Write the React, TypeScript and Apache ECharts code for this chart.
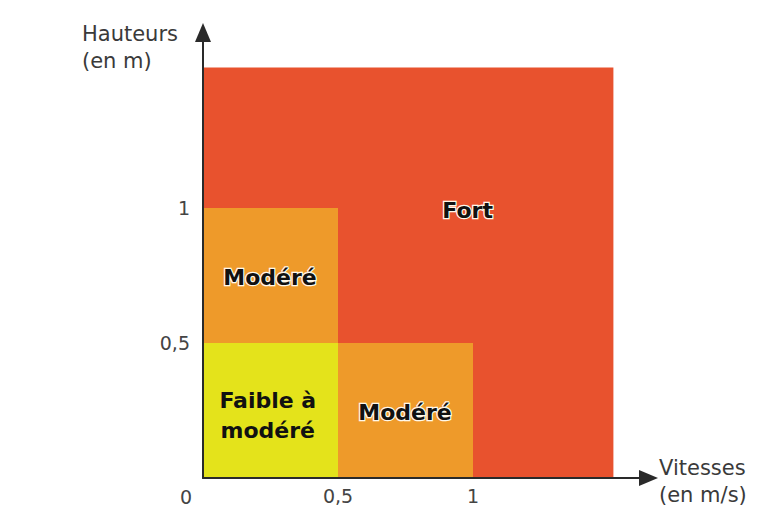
import React, { useEffect, useRef } from "react";
import * as echarts from "echarts";

// Zones (rectangles in data units: vitesse x, hauteur y)
const zoneNames = ["Fort", "Modéré", "Modéré", "Faible à\nmodéré"];
const zoneX0 = [0, 0, 0.5, 0];
const zoneX1 = [1.52, 0.5, 1, 0.5];
const zoneY0 = [0, 0.5, 0, 0];
const zoneY1 = [1.52, 1, 0.5, 0.5];
const zoneColors = ["#E8522E", "#EE9A2A", "#EE9A2A", "#E4E31B"];
const zoneHalo = [true, true, true, false];

// Label anchor points (data units)
const labelX = [0.98, 0.248, 0.748, 0.24];
const labelY = [0.99, 0.744, 0.244, 0.233];

// Tick labels
const xTicks = [0.5, 1];
const yTicks = [0.5, 1];
const axisMax = 1.65;

const fmt = (v: number) => String(v).replace(".", ",");

export default function App() {
  const ref = useRef<HTMLDivElement>(null);
  useEffect(() => {
    if (!ref.current) return;
    const chart = echarts.init(ref.current, null, { renderer: "svg" });
    const rectData = zoneNames.map((_, i) => ({
      value: [zoneX0[i], zoneX1[i], zoneY0[i], zoneY1[i]],
      itemStyle: { color: zoneColors[i] },
    }));
    const labelData = zoneNames.map((n, i) => ({
      value: [labelX[i], labelY[i]],
      name: n,
      label: {
        show: true,
        position: "inside",
        formatter: n,
        fontFamily: "DejaVu Sans",
        fontWeight: "bold",
        fontSize: 22,
        lineHeight: 30,
        color: "#111111",
        opacity: 1,
        textBorderColor: zoneHalo[i] ? "#fff8ea" : "transparent",
        textBorderWidth: zoneHalo[i] ? 2.5 : 0,
      },
    }));
    chart.setOption({
      animation: false,
      backgroundColor: "#ffffff",
      grid: { left: 203, right: 761 - 203 - axisMax * 270, top: 478 - axisMax * 270, bottom: 52 },
      xAxis: {
        type: "value",
        min: 0,
        max: axisMax,
        interval: 0.5,
        z: 10,
        splitLine: { show: false },
        axisTick: { show: false },
        axisLine: {
          show: true,
          lineStyle: { color: "#2a2a2a", width: 2 },
          symbol: ["none", "triangle"],
          symbolSize: [16, 19],
        },
        axisLabel: {
          margin: 8,
          fontFamily: "DejaVu Sans",
          fontSize: 19,
          color: "#444",
          showMaxLabel: false,
          formatter: (v: number) => (xTicks.includes(v) ? fmt(v) : ""),
        },
      },
      yAxis: {
        type: "value",
        min: 0,
        max: axisMax,
        interval: 0.5,
        z: 10,
        splitLine: { show: false },
        axisTick: { show: false },
        axisLine: {
          show: true,
          lineStyle: { color: "#2a2a2a", width: 2 },
          symbol: ["none", "triangle"],
          symbolSize: [16, 19],
        },
        axisLabel: {
          margin: 13,
          fontFamily: "DejaVu Sans",
          fontSize: 19,
          color: "#444",
          showMaxLabel: false,
          formatter: (v: number) => (yTicks.includes(v) ? fmt(v) : ""),
        },
      },
      graphic: [
        {
          type: "text",
          left: 82,
          top: 20,
          style: {
            text: "Hauteurs\n(en m)",
            fontFamily: "DejaVu Sans",
            fontSize: 21,
            lineHeight: 27,
            fill: "#3a3a3a",
          },
        },
        {
          type: "text",
          left: 659,
          top: 454,
          style: {
            text: "Vitesses\n(en m/s)",
            fontFamily: "DejaVu Sans",
            fontSize: 21,
            lineHeight: 27,
            fill: "#3a3a3a",
          },
        },
        {
          type: "text",
          left: 180,
          top: 487,
          style: { text: "0", fontFamily: "DejaVu Sans", fontSize: 19, fill: "#444" },
        },
      ],
      series: [
        {
          type: "custom",
          z: 1,
          data: rectData,
          renderItem: (params: any, api: any) => {
            const p0 = api.coord([api.value(0), api.value(3)]);
            const p1 = api.coord([api.value(1), api.value(2)]);
            return {
              type: "rect",
              shape: { x: p0[0], y: p0[1], width: p1[0] - p0[0], height: p1[1] - p0[1] },
              style: { fill: api.visual("color") },
            };
          },
        },
        {
          type: "scatter",
          z: 5,
          symbolSize: 0,
          itemStyle: { opacity: 1 },
          data: labelData,
        },
      ],
    });
    return () => chart.dispose();
  }, []);
  return (
    <div
      ref={ref}
      style={{ position: "fixed", left: 0, top: 0, width: 761, height: 530 }}
    />
  );
}
